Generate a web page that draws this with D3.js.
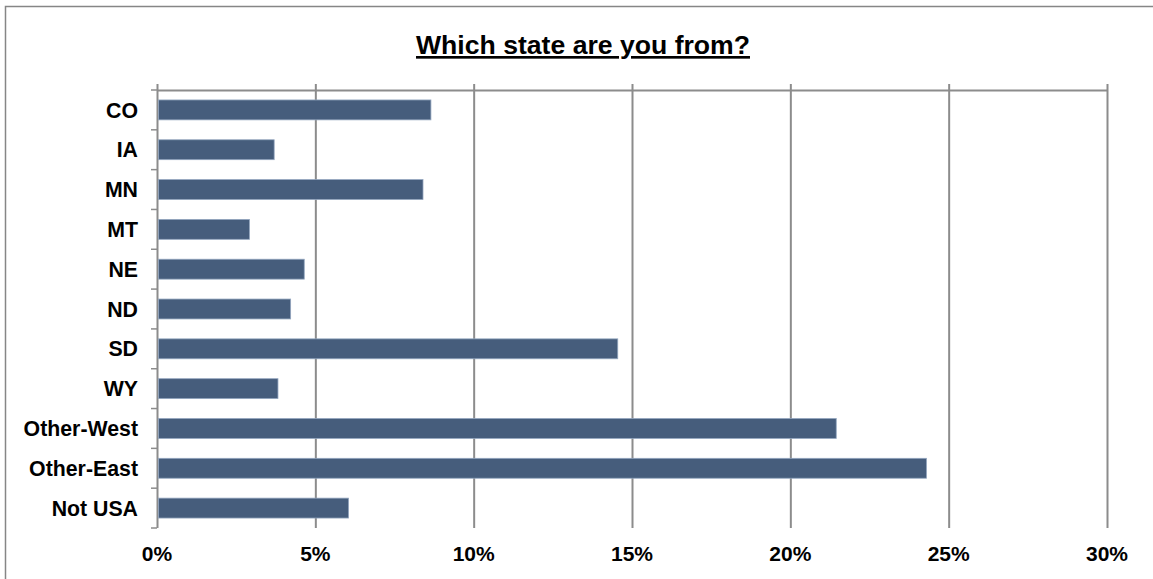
<!DOCTYPE html>
<html>
<head>
<meta charset="utf-8">
<script src="https://cdn.jsdelivr.net/npm/d3@7"></script>
<style>
  html, body { margin: 0; padding: 0; background: #fff; }
  svg { display: block; font-family: Arial, "Liberation Sans", sans-serif; }
</style>
</head>
<body>
<svg id="chart" width="1153" height="579"></svg>
<script>
// Survey responses: share of respondents by home state
const categories = ["CO", "IA", "MN", "MT", "NE", "ND", "SD", "WY", "Other-West", "Other-East", "Not USA"];
const shares = [8.65, 3.70, 8.40, 2.92, 4.65, 4.22, 14.55, 3.82, 21.45, 24.30, 6.05];
const tickValues = [0, 5, 10, 15, 20, 25, 30];
const tickLabels = ["0%", "5%", "10%", "15%", "20%", "25%", "30%"];

const svg = d3.select("#chart");
const W = 1153, H = 579;
const plot = { left: 157, right: 1107, top: 90, bottom: 528 };

// outer chart frame (extends past the right/bottom edge of the window)
svg.append("rect")
  .attr("x", 5.5).attr("y", 6.5)
  .attr("width", W + 10).attr("height", H + 10)
  .attr("fill", "#fff").attr("stroke", "#868686").attr("stroke-width", 1.5);

const x = d3.scaleLinear().domain([0, 30]).range([plot.left, plot.right]);
const y = d3.scaleBand().domain(categories).range([plot.top, plot.bottom]).paddingInner(0.5).paddingOuter(0.25);

// vertical gridlines, poking slightly above the top axis line
svg.append("g")
  .selectAll("line")
  .data(tickValues.slice(1))
  .join("line")
  .attr("x1", d => x(d) + 0.5).attr("x2", d => x(d) + 0.5)
  .attr("y1", plot.top - 6).attr("y2", plot.bottom)
  .attr("stroke", "#8c8c8c").attr("stroke-width", 2);

// value axis line across the top
svg.append("line")
  .attr("x1", plot.left).attr("x2", plot.right + 1)
  .attr("y1", plot.top + 0.5).attr("y2", plot.top + 0.5)
  .attr("stroke", "#8c8c8c").attr("stroke-width", 2);

// category axis line with tick marks between categories
const catAxis = svg.append("g");
catAxis.append("line")
  .attr("x1", plot.left + 0.5).attr("x2", plot.left + 0.5)
  .attr("y1", plot.top - 6).attr("y2", plot.bottom)
  .attr("stroke", "#8c8c8c").attr("stroke-width", 2);
const boundaries = d3.range(categories.length + 1).map(i => plot.top + i * (plot.bottom - plot.top) / categories.length);
catAxis.selectAll("line.tick")
  .data(boundaries)
  .join("line")
  .attr("class", "tick")
  .attr("x1", plot.left - 6).attr("x2", plot.left)
  .attr("y1", d => d).attr("y2", d => d)
  .attr("stroke", "#8c8c8c").attr("stroke-width", 1.5);

// bars
svg.append("g")
  .selectAll("rect")
  .data(categories.map((c, i) => ({ c, v: shares[i] })))
  .join("rect")
  .attr("x", x(0) + 1.5)
  .attr("y", d => y(d.c))
  .attr("width", d => x(d.v) - x(0) - 1.5)
  .attr("height", y.bandwidth())
  .attr("fill", "#465d7c")
  .attr("stroke", "#93a6bf").attr("stroke-width", 0.8);

// category labels
svg.append("g")
  .selectAll("text")
  .data(categories)
  .join("text")
  .attr("x", 138)
  .attr("y", d => y(d) + y.bandwidth() / 2)
  .attr("dy", "0.36em")
  .attr("text-anchor", "end")
  .attr("font-size", 21.3).attr("font-weight", "bold").attr("fill", "#000")
  .text(d => d);

// value tick labels along the bottom
svg.append("g")
  .selectAll("text")
  .data(tickValues)
  .join("text")
  .attr("x", (d) => x(d))
  .attr("y", 561)
  .attr("text-anchor", "middle")
  .attr("font-size", 21).attr("font-weight", "bold").attr("fill", "#000")
  .text((d, i) => tickLabels[i]);

// title
svg.append("text")
  .attr("x", 583).attr("y", 54)
  .attr("text-anchor", "middle")
  .attr("font-size", 26.6).attr("font-weight", "bold")
  .attr("text-decoration", "underline")
  .attr("fill", "#000")
  .text("Which state are you from?");
</script>
</body>
</html>
